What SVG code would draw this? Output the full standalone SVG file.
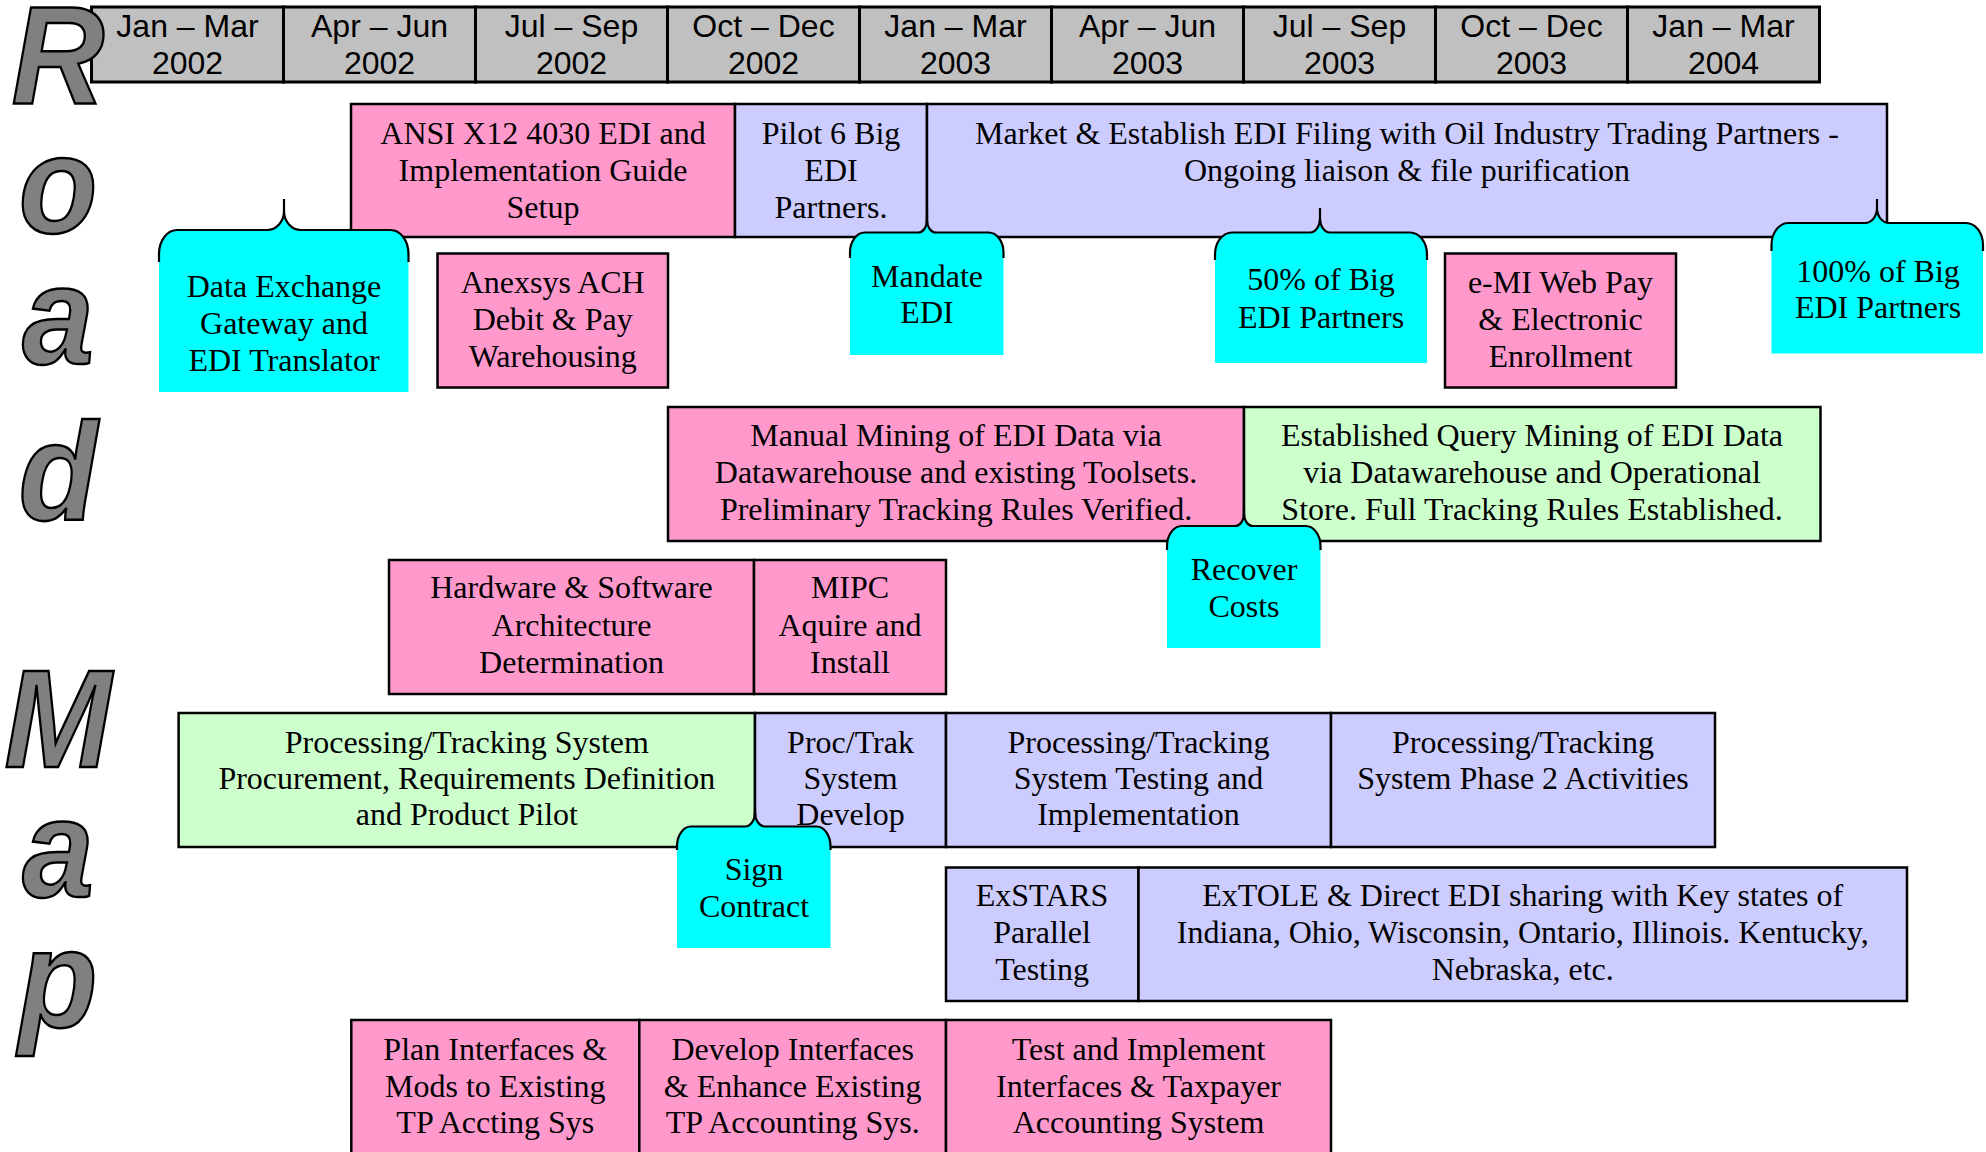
<svg xmlns="http://www.w3.org/2000/svg" width="1986" height="1152" viewBox="0 0 1986 1152">
  <style>
    .hdr rect { fill: #C0C0C0; stroke: #000; stroke-width: 3; }
    .hdr text { font-family: "Liberation Sans", Arial, sans-serif; font-size: 32px; text-anchor: middle; fill: #000; }
    .box { stroke: #000; stroke-width: 2.5; }
    .pink { fill: #FF99CC; }
    .lav { fill: #CCCCFF; }
    .grn { fill: #CCFFCC; }
    .t { font-family: "Liberation Serif", "Times New Roman", serif; font-size: 32px; text-anchor: middle; fill: #000; }
    .co { fill: #00FFFF; stroke: none; }
    .brace { fill: none; stroke: #000; stroke-width: 2.2; }
    .big { font-family: "Liberation Sans", Arial, sans-serif; font-weight: bold; font-style: italic; font-size: 140px; text-anchor: middle; fill: #808080; stroke: #000; stroke-width: 2.5; }
  </style>

  <rect width="1986" height="1152" fill="#fff"/>

  <!-- quarter header -->
  <g id="timeline" class="hdr">
    <rect x="91.5" y="7" width="192" height="75"/>
    <rect x="283.5" y="7" width="192" height="75"/>
    <rect x="475.5" y="7" width="192" height="75"/>
    <rect x="667.5" y="7" width="192" height="75"/>
    <rect x="859.5" y="7" width="192" height="75"/>
    <rect x="1051.5" y="7" width="192" height="75"/>
    <rect x="1243.5" y="7" width="192" height="75"/>
    <rect x="1435.5" y="7" width="192" height="75"/>
    <rect x="1627.5" y="7" width="192" height="75"/>
    <text x="187.5" y="37">Jan – Mar</text><text x="187.5" y="74">2002</text>
    <text x="379.5" y="37">Apr – Jun</text><text x="379.5" y="74">2002</text>
    <text x="571.5" y="37">Jul – Sep</text><text x="571.5" y="74">2002</text>
    <text x="763.5" y="37">Oct – Dec</text><text x="763.5" y="74">2002</text>
    <text x="955.5" y="37">Jan – Mar</text><text x="955.5" y="74">2003</text>
    <text x="1147.5" y="37">Apr – Jun</text><text x="1147.5" y="74">2003</text>
    <text x="1339.5" y="37">Jul – Sep</text><text x="1339.5" y="74">2003</text>
    <text x="1531.5" y="37">Oct – Dec</text><text x="1531.5" y="74">2003</text>
    <text x="1723.5" y="37">Jan – Mar</text><text x="1723.5" y="74">2004</text>
  </g>

  <!-- vertical title letters (slightly condensed), drawn over the header's left end -->
  <g id="title" transform="translate(58,0) scale(0.92,1)">
    <text class="big" x="0" y="103">R</text>
    <text class="big" x="0" y="233">o</text>
    <text class="big" x="0" y="364">a</text>
    <text class="big" x="0" y="520">d</text>
    <text class="big" x="0" y="767">M</text>
    <text class="big" x="0" y="897">a</text>
    <text class="big" x="0" y="1027">p</text>
  </g>

  <!-- task bars -->
  <g id="ansi">
    <rect class="box pink" x="351" y="104" width="384" height="133"/>
    <text class="t" x="543" y="144">ANSI X12 4030 EDI and</text>
    <text class="t" x="543" y="181">Implementation Guide</text>
    <text class="t" x="543" y="218">Setup</text>
  </g>
  <g id="pilot">
    <rect class="box lav" x="735" y="104" width="192" height="133"/>
    <text class="t" x="831" y="144">Pilot 6 Big</text>
    <text class="t" x="831" y="181">EDI</text>
    <text class="t" x="831" y="218">Partners.</text>
  </g>
  <g id="market">
    <rect class="box lav" x="927" y="104" width="960" height="133"/>
    <text class="t" x="1407" y="144">Market &amp; Establish EDI Filing with Oil Industry Trading Partners -</text>
    <text class="t" x="1407" y="181">Ongoing liaison &amp; file purification</text>
  </g>
  <g id="anexsys">
    <rect class="box pink" x="437.5" y="253.5" width="230.5" height="134"/>
    <text class="t" x="552.7" y="293">Anexsys ACH</text>
    <text class="t" x="552.7" y="330">Debit &amp; Pay</text>
    <text class="t" x="552.7" y="367">Warehousing</text>
  </g>
  <g id="emi">
    <rect class="box pink" x="1445" y="253.5" width="231" height="134"/>
    <text class="t" x="1560.5" y="293">e-MI Web Pay</text>
    <text class="t" x="1560.5" y="330">&amp; Electronic</text>
    <text class="t" x="1560.5" y="367">Enrollment</text>
  </g>
  <g id="manual-mining">
    <rect class="box pink" x="668" y="407" width="576" height="134"/>
    <text class="t" x="956" y="446">Manual Mining of EDI Data via</text>
    <text class="t" x="956" y="483">Datawarehouse and existing Toolsets.</text>
    <text class="t" x="956" y="520">Preliminary Tracking Rules Verified.</text>
  </g>
  <g id="query-mining">
    <rect class="box grn" x="1244" y="407" width="576.5" height="134"/>
    <text class="t" x="1532" y="446">Established Query Mining of EDI Data</text>
    <text class="t" x="1532" y="483">via Datawarehouse and Operational</text>
    <text class="t" x="1532" y="520">Store. Full Tracking Rules Established.</text>
  </g>
  <g id="hardware">
    <rect class="box pink" x="389" y="560" width="365" height="134"/>
    <text class="t" x="571.5" y="598">Hardware &amp; Software</text>
    <text class="t" x="571.5" y="636">Architecture</text>
    <text class="t" x="571.5" y="673">Determination</text>
  </g>
  <g id="mipc">
    <rect class="box pink" x="754" y="560" width="192" height="134"/>
    <text class="t" x="850" y="598">MIPC</text>
    <text class="t" x="850" y="636">Aquire and</text>
    <text class="t" x="850" y="673">Install</text>
  </g>
  <g id="pt-procurement">
    <rect class="box grn" x="178.6" y="713" width="576.4" height="134"/>
    <text class="t" x="466.8" y="753">Processing/Tracking System</text>
    <text class="t" x="466.8" y="789">Procurement, Requirements Definition</text>
    <text class="t" x="466.8" y="825">and Product Pilot</text>
  </g>
  <g id="pt-develop">
    <rect class="box lav" x="755" y="713" width="191" height="134"/>
    <text class="t" x="850.5" y="753">Proc/Trak</text>
    <text class="t" x="850.5" y="789">System</text>
    <text class="t" x="850.5" y="825">Develop</text>
  </g>
  <g id="pt-testing">
    <rect class="box lav" x="946" y="713" width="385" height="134"/>
    <text class="t" x="1138.5" y="753">Processing/Tracking</text>
    <text class="t" x="1138.5" y="789">System Testing and</text>
    <text class="t" x="1138.5" y="825">Implementation</text>
  </g>
  <g id="pt-phase2">
    <rect class="box lav" x="1331" y="713" width="384" height="134"/>
    <text class="t" x="1523" y="753">Processing/Tracking</text>
    <text class="t" x="1523" y="789">System Phase 2 Activities</text>
  </g>
  <g id="exstars">
    <rect class="box lav" x="946" y="867.5" width="192.5" height="133.5"/>
    <text class="t" x="1042" y="906">ExSTARS</text>
    <text class="t" x="1042" y="943">Parallel</text>
    <text class="t" x="1042" y="980">Testing</text>
  </g>
  <g id="extole">
    <rect class="box lav" x="1138.5" y="867.5" width="768.5" height="133.5"/>
    <text class="t" x="1522.7" y="906">ExTOLE &amp; Direct EDI sharing with Key states of</text>
    <text class="t" x="1522.7" y="943">Indiana, Ohio, Wisconsin, Ontario, Illinois. Kentucky,</text>
    <text class="t" x="1522.7" y="980">Nebraska, etc.</text>
  </g>
  <g id="plan-interfaces">
    <rect class="box pink" x="351.3" y="1020" width="288" height="150"/>
    <text class="t" x="495.3" y="1060">Plan Interfaces &amp;</text>
    <text class="t" x="495.3" y="1097">Mods to Existing</text>
    <text class="t" x="495.3" y="1133">TP Accting Sys</text>
  </g>
  <g id="develop-interfaces">
    <rect class="box pink" x="639.3" y="1020" width="306.7" height="150"/>
    <text class="t" x="792.7" y="1060">Develop Interfaces</text>
    <text class="t" x="792.7" y="1097">&amp; Enhance Existing</text>
    <text class="t" x="792.7" y="1133">TP Accounting Sys.</text>
  </g>
  <g id="test-interfaces">
    <rect class="box pink" x="946" y="1020" width="385" height="150"/>
    <text class="t" x="1138.5" y="1060">Test and Implement</text>
    <text class="t" x="1138.5" y="1097">Interfaces &amp; Taxpayer</text>
    <text class="t" x="1138.5" y="1133">Accounting System</text>
  </g>

  <!-- milestone callouts: cyan panel topped by a brace pointing at the bar above -->
  <g id="data-exchange">
    <path class="co" d="M159,392 V254 A18,24 0 0 1 177,230 H267 A17,19 0 0 0 284,211 V199 V211 A17,19 0 0 0 301,230 H390.5 A18,24 0 0 1 408.5,254 V392 Z"/>
    <path class="brace" d="M159,262 V254 A18,24 0 0 1 177,230 H267 A17,19 0 0 0 284,211 V199 M284,211 A17,19 0 0 0 301,230 H390.5 A18,24 0 0 1 408.5,254 V262"/>
    <text class="t" x="284" y="297">Data Exchange</text>
    <text class="t" x="284" y="334">Gateway and</text>
    <text class="t" x="284" y="371">EDI Translator</text>
  </g>
  <g id="mandate">
    <path class="co" d="M850,355 V252.5 A15,20 0 0 1 865,232.5 H918 A9,12 0 0 0 927,220.5 V214 V220.5 A9,12 0 0 0 936,232.5 H988.5 A15,20 0 0 1 1003.5,252.5 V355 Z"/>
    <path class="brace" d="M850,258 V252.5 A15,20 0 0 1 865,232.5 H918 A9,12 0 0 0 927,220.5 V214 M927,220.5 A9,12 0 0 0 936,232.5 H988.5 A15,20 0 0 1 1003.5,252.5 V258"/>
    <text class="t" x="927" y="287">Mandate</text>
    <text class="t" x="927" y="323">EDI</text>
  </g>
  <g id="half-partners">
    <path class="co" d="M1215,363 V254.5 A17,22 0 0 1 1232,232.5 H1310 A10,14 0 0 0 1320,218.5 V208 V218.5 A10,14 0 0 0 1330,232.5 H1410 A17,22 0 0 1 1427,254.5 V363 Z"/>
    <path class="brace" d="M1215,260 V254.5 A17,22 0 0 1 1232,232.5 H1310 A10,14 0 0 0 1320,218.5 V208 M1320,218.5 A10,14 0 0 0 1330,232.5 H1410 A17,22 0 0 1 1427,254.5 V260"/>
    <text class="t" x="1321" y="290">50% of Big</text>
    <text class="t" x="1321" y="328">EDI Partners</text>
  </g>
  <g id="all-partners">
    <path class="co" d="M1771.5,353.5 V245 A17,22 0 0 1 1788.5,223 H1865 A12,15 0 0 0 1877,208 V199 V208 A12,15 0 0 0 1889,223 H1966 A17,22 0 0 1 1983,245 V353.5 Z"/>
    <path class="brace" d="M1771.5,251 V245 A17,22 0 0 1 1788.5,223 H1865 A12,15 0 0 0 1877,208 V199 M1877,208 A12,15 0 0 0 1889,223 H1966 A17,22 0 0 1 1983,245 V251"/>
    <text class="t" x="1878" y="282">100% of Big</text>
    <text class="t" x="1878" y="318">EDI Partners</text>
  </g>
  <g id="recover-costs">
    <path class="co" d="M1167,648 V546 A15,20 0 0 1 1182,526 H1235 A9,12 0 0 0 1244,514 V507 V514 A9,12 0 0 0 1253,526 H1305.5 A15,20 0 0 1 1320.5,546 V648 Z"/>
    <path class="brace" d="M1167,550 V546 A15,20 0 0 1 1182,526 H1235 A9,12 0 0 0 1244,514 V507 M1244,514 A9,12 0 0 0 1253,526 H1305.5 A15,20 0 0 1 1320.5,546 V550"/>
    <text class="t" x="1244" y="580">Recover</text>
    <text class="t" x="1244" y="617">Costs</text>
  </g>
  <g id="sign-contract">
    <path class="co" d="M677,948 V846.5 A14,20 0 0 1 691,826.5 H745 A10,14 0 0 0 755,812.5 V808 V812.5 A10,14 0 0 0 765,826.5 H816.5 A14,20 0 0 1 830.5,846.5 V948 Z"/>
    <path class="brace" d="M677,850 V846.5 A14,20 0 0 1 691,826.5 H745 A10,14 0 0 0 755,812.5 V808 M755,812.5 A10,14 0 0 0 765,826.5 H816.5 A14,20 0 0 1 830.5,846.5 V850"/>
    <text class="t" x="754" y="880">Sign</text>
    <text class="t" x="754" y="917">Contract</text>
  </g>
</svg>
